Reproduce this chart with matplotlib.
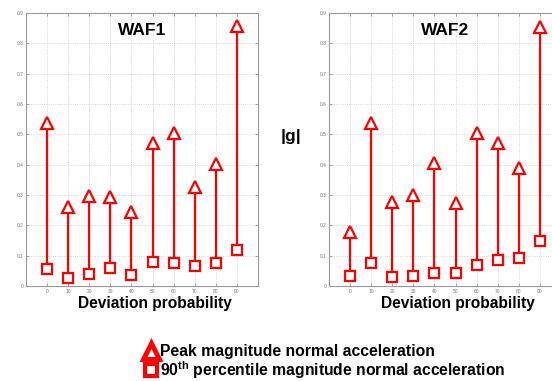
import matplotlib.pyplot as plt
from matplotlib.lines import Line2D

plt.rcParams['font.family'] = ['Liberation Sans', 'DejaVu Sans']
plt.rcParams['mathtext.fontset'] = 'custom'
plt.rcParams['mathtext.bf'] = 'Liberation Sans:bold'
plt.rcParams['mathtext.rm'] = 'Liberation Sans'

deviation = [0, 10, 20, 30, 40, 50, 60, 70, 80, 90]

waf1_peak = [0.537, 0.259, 0.297, 0.292, 0.243, 0.470, 0.503, 0.327, 0.401, 0.856]
waf1_p90 = [0.055, 0.025, 0.040, 0.058, 0.036, 0.079, 0.076, 0.067, 0.075, 0.119]

waf2_peak = [0.177, 0.538, 0.277, 0.300, 0.406, 0.272, 0.505, 0.470, 0.388, 0.854]
waf2_p90 = [0.034, 0.075, 0.029, 0.034, 0.044, 0.044, 0.068, 0.086, 0.091, 0.148]

titles = ['WAF1', 'WAF2']
y_ticks = [0, 0.1, 0.2, 0.3, 0.4, 0.5, 0.6, 0.7, 0.8, 0.9]

red = '#ff0000'

fig = plt.figure(figsize=(5.52, 3.81), dpi=100)
ax1 = fig.add_axes([26 / 552, 95 / 381, 232 / 552, 273 / 381])
ax2 = fig.add_axes([329 / 552, 95 / 381, 232 / 552, 273 / 381])

for ax, title, peak, p90 in [(ax1, titles[0], waf1_peak, waf1_p90),
                             (ax2, titles[1], waf2_peak, waf2_p90)]:
    ax.vlines(deviation, p90, peak, color=red, lw=1.6, zorder=2)
    ax.plot(deviation, peak, '^', ms=8, mfc='white', mec=red, mew=1.6, zorder=3)
    ax.plot(deviation, p90, 's', ms=7, mfc='white', mec=red, mew=1.6, zorder=3)
    ax.set_xlim(-10, 100)
    ax.set_ylim(0, 0.9)
    ax.set_xticks(deviation)
    ax.set_yticks(y_ticks)
    ax.set_yticklabels(['0'] + [f'{v:g}' for v in y_ticks[1:]])
    ax.tick_params(labelsize=3.5, labelcolor='#777777', direction='in',
                   length=2, width=0.5, color='#888888', top=True, right=True, pad=2)
    ax.grid(True, ls=':', lw=0.6, color='#c8c8c8')
    for s in ax.spines.values():
        s.set_color('#999999')
        s.set_linewidth(0.8)
    ax.text(0.5, 0.935, title, transform=ax.transAxes, ha='center', va='center',
            fontsize=12.5, fontweight='bold')
    ax.set_xlabel('Deviation probability', fontsize=11.2, fontweight='bold')
    ax.xaxis.set_label_coords(0.555, -0.035)

fig.text(291 / 552, 1 - 137 / 381, '|g|', ha='center', va='center',
         fontsize=12.5, fontweight='bold')

handles = [
    Line2D([], [], ls='none', marker='^', ms=11, mfc='white', mec=red, mew=3.5),
    Line2D([], [], ls='none', marker='s', ms=8.5, mfc='white', mec=red, mew=3),
]
labels = ['Peak magnitude normal acceleration',
          r'90$^{\mathbf{th}}$ percentile magnitude normal acceleration']
leg = fig.legend(handles, labels, loc='center left', bbox_to_anchor=(136 / 552, 1 - 362.5 / 381),
                 frameon=False, handlelength=0.9, handletextpad=0.12, labelspacing=0.0,
                 borderpad=0, prop={'size': 11.3, 'weight': 'bold'})

fig.savefig('out.png', dpi=100)
